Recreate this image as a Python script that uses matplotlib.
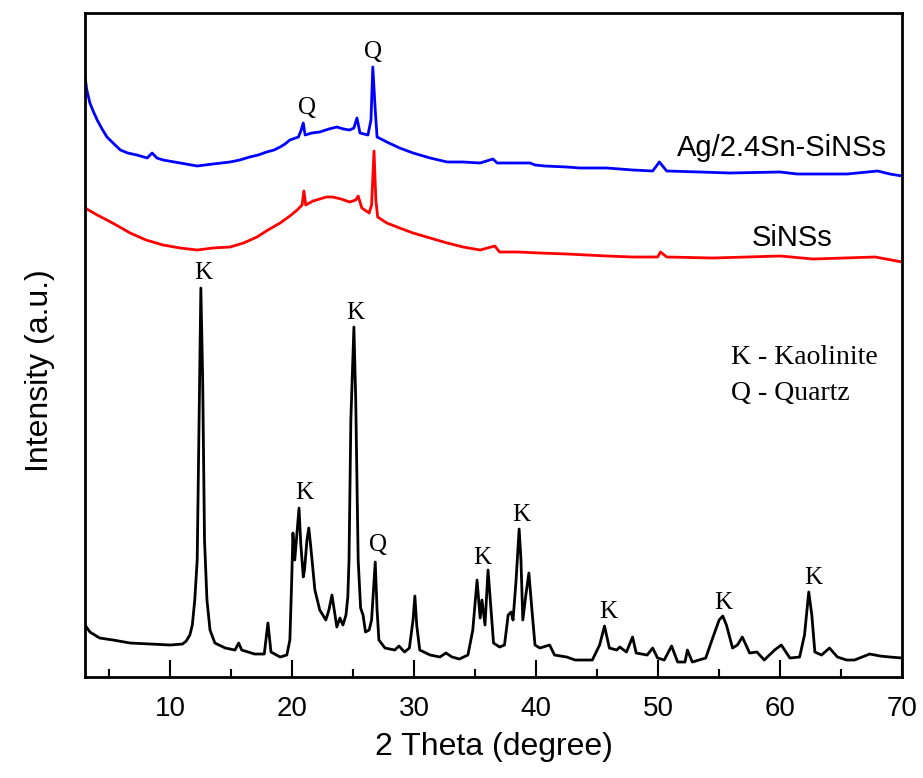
import matplotlib
matplotlib.use("Agg")
import matplotlib.pyplot as plt
from matplotlib.ticker import MultipleLocator

plt.rcParams['font.family'] = ['Liberation Sans', 'DejaVu Sans']

# curves (2theta in degree, intensity in a.u.)
kaol_x = [3.0, 3.4, 4.2, 5.3, 6.7, 8.3, 10.0, 11.0, 11.3, 11.6, 11.8, 12.0, 12.2, 12.35, 12.5,
          12.65, 12.8, 13.0, 13.25, 13.65, 14.5, 15.3, 15.6, 15.85, 16.9, 17.7, 18.0, 18.25,
          19.0, 19.55, 19.8, 19.95, 20.05, 20.2, 20.4, 20.55, 20.7, 20.9, 21.0, 21.2, 21.35,
          21.5, 21.85, 22.25, 22.75, 23.0, 23.25, 23.5, 23.65, 23.9, 24.15, 24.4, 24.55, 24.65,
          24.8, 25.05, 25.2, 25.4, 25.6, 25.8, 26.0, 26.3, 26.5, 26.8, 26.95, 27.1, 27.6, 28.4,
          28.75, 29.2, 29.6, 29.9, 30.05, 30.2, 30.45, 31.3, 32.1, 32.6, 33.1, 33.7, 34.4,
          34.8, 35.15, 35.4, 35.55, 35.8, 36.05, 36.3, 36.5, 37.0, 37.4, 37.7, 37.95, 38.1,
          38.35, 38.6, 38.75, 38.9, 39.15, 39.4, 39.65, 39.9, 40.3, 41.1, 41.5, 42.5, 43.2,
          44.6, 45.2, 45.6, 46.0, 46.6, 46.85, 47.4, 47.9, 48.2, 49.1, 49.55, 49.95, 50.5,
          51.1, 51.6, 52.2, 52.4, 52.8, 53.9, 54.5, 55.0, 55.3, 55.6, 56.1, 56.5, 56.9, 57.5,
          58.1, 58.7, 59.55, 60.1, 60.8, 61.6, 62.0, 62.35, 62.6, 62.85, 63.4, 64.05, 64.7,
          65.45, 66.1, 67.35, 68.2, 69.0, 70.0]
kaol_y = [52, 45, 39, 37, 34, 33, 32, 33, 36, 42, 52, 77, 117, 257, 389,
          297, 137, 77, 47, 34, 29, 27, 34, 27, 23, 23, 54, 25,
          20, 22, 37, 97, 144, 117, 147, 169, 132, 100, 107, 137, 149,
          132, 87, 67, 57, 67, 82, 62, 50, 59, 52, 62, 80, 117,
          257, 350, 277, 117, 69, 62, 45, 47, 57, 115, 67, 37, 29, 27,
          31, 25, 29, 57, 81, 52, 27, 22, 20, 24, 20, 18, 22,
          47, 97, 59, 77, 52, 107, 67, 34, 30, 32, 62, 65, 57,
          97, 148, 117, 57, 82, 104, 67, 32, 29, 32, 22, 20, 17,
          17, 32, 51, 29, 27, 30, 25, 40, 24, 22, 29, 19, 17,
          31, 15, 15, 27, 15, 19, 40, 57, 61, 52, 29, 32, 40, 24,
          25, 17, 27, 32, 19, 20, 42, 85, 62, 25, 22, 29, 20,
          17, 17, 23, 21, 20, 19]

sinss_x = [3.0, 4.0, 4.8, 5.7, 6.7, 8.0, 9.4, 10.8, 12.2, 13.5, 14.9, 16.0, 17.1, 18.0, 19.0,
           19.8, 20.4, 20.8, 20.95, 21.1, 21.7, 22.25, 22.8, 23.3, 24.0, 24.7, 25.2, 25.4,
           25.7, 26.3, 26.5, 26.7, 26.85, 27.0, 27.75, 28.8, 29.9, 31.3, 32.7, 34.0, 35.4,
           36.6, 37.0, 38.5, 40.3, 42.5, 45.8, 47.9, 49.95, 50.2, 50.7, 54.5, 60.0, 62.7,
           67.8, 70.0]
sinss_y = [469, 462, 457, 451, 444, 437, 432, 429, 427, 429, 430, 434, 440, 447, 454,
           461, 467, 472, 486, 472, 476, 478, 480, 480, 478, 475, 477, 481,
           469, 464, 472, 526, 477, 460, 454, 449, 444, 439, 434, 430, 427,
           431, 425, 425, 424, 423, 421, 420, 420, 425, 420, 419, 421, 418,
           420, 415]

agsn_x = [3.0, 3.15, 3.4, 3.7, 4.0, 4.4, 4.8, 5.3, 5.9, 6.5, 7.25, 8.1, 8.5, 8.9, 9.4,
          10.8, 12.2, 13.5, 14.9, 15.7, 16.5, 17.2, 17.9, 18.5, 19.0, 19.4, 19.8, 20.5,
          20.7, 20.9, 21.05, 21.6, 22.25, 23.0, 23.65, 24.2, 24.7, 25.05, 25.3, 25.55, 26.2,
          26.45, 26.6, 26.8, 26.95, 27.75, 28.8, 29.9, 31.3, 32.7, 34.0, 35.4, 36.45, 36.8,
          37.6, 39.5, 39.9, 40.7, 42.5, 43.6, 45.8, 47.9, 49.55, 50.1, 50.7, 53.4, 55.9,
          60.0, 61.4, 65.5, 68.0, 69.0, 70.0]
agsn_y = [600, 587, 574, 565, 557, 548, 540, 534, 527, 524, 522, 519, 524, 519, 517,
          514, 511, 513, 515, 517, 520, 522, 525, 527, 530, 533, 537, 540,
          546, 554, 542, 544, 545, 548, 550, 548, 547, 549, 559, 544, 542,
          557, 610, 567, 540, 535, 529, 524, 519, 515, 515, 514, 518, 514,
          514, 514, 512, 511, 510, 509, 509, 507, 506, 515, 506, 505, 504,
          505, 503, 503, 506, 503, 501]

# peak markers: (2theta, y, phase)
kaol_marks = [(12.67, 404, 'K'), (20.95, 184, 'K'), (25.15, 364, 'K'), (27.0, 132, 'Q'),
              (35.6, 119, 'K'), (38.8, 162, 'K'), (45.9, 65, 'K'), (55.3, 74, 'K'),
              (62.7, 99, 'K')]
agsn_marks = [(21.2, 569, 'Q'), (26.6, 625, 'Q')]

fig = plt.figure(figsize=(9.23, 7.78), dpi=100)
ax = fig.add_axes([0.0921, 0.1298, 0.8852, 0.8535])

ax.plot(kaol_x, kaol_y, color='black', lw=2.0)
ax.plot(sinss_x, sinss_y, color='#ff0000', lw=2.0)
ax.plot(agsn_x, agsn_y, color='#0000ff', lw=2.0)

serif = ['Liberation Serif', 'DejaVu Serif']
for x, y, s in kaol_marks + agsn_marks:
    ax.text(x, y, s, ha='center', va='center', fontsize=18, family=serif)

ax.text(68.8, 529, 'Ag/2.4Sn-SiNSs', ha='right', va='center', fontsize=21)
ax.text(61.0, 439, 'SiNSs', ha='center', va='center', fontsize=21)
ax.text(56.0, 320, 'K - Kaolinite', ha='left', va='center', fontsize=20, family=serif)
ax.text(56.0, 284, 'Q - Quartz', ha='left', va='center', fontsize=20, family=serif)

ax.set_xlim(3, 70)
ax.set_ylim(0, 664)
ax.xaxis.set_major_locator(MultipleLocator(10))
ax.xaxis.set_minor_locator(MultipleLocator(5))
ax.set_yticks([])
ax.tick_params(axis='x', which='major', direction='in', length=12, width=1.5,
               labelsize=20, pad=14)
ax.tick_params(axis='x', which='minor', direction='in', length=6, width=1.5)
for sp in ax.spines.values():
    sp.set_linewidth(2)

ax.set_xlabel('2 Theta (degree)', fontsize=23, labelpad=7)
ax.set_ylabel('Intensity (a.u.)', fontsize=23)
ax.yaxis.set_label_coords(-0.037, 0.462)

fig.savefig('out.png', dpi=100)
